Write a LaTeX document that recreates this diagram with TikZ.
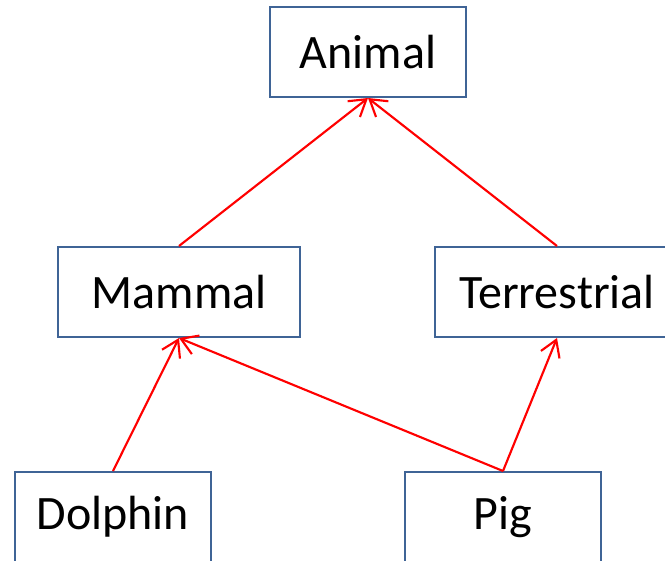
\documentclass[tikz,border=0pt]{standalone}
\usepackage{fontspec}
\setmainfont{Carlito}
\usetikzlibrary{arrows.meta}
\definecolor{boxblue}{HTML}{3F6496}
\begin{document}
\begin{tikzpicture}[x=0.75pt,y=-0.75pt,
  classbox/.style={draw=boxblue, line width=1.5pt, fill=white, inner sep=0pt,
    minimum height=67.5pt, font=\fontsize{36}{43}\selectfont},
  isa/.style={draw=red, line width=1.6pt,
    -{Straight Barb[length=12pt,width=15pt,line width=1.6pt]}}]
  \useasboundingbox (0,0) rectangle (665,561);
  \clip (0,0) rectangle (665,561);
  \node[classbox, minimum width=147pt] (animal) at (368,52) {Animal};
  \node[classbox, minimum width=181.5pt] (mammal) at (179,292) {Mammal};
  \node[classbox, minimum width=183pt] (terrestrial) at (557,292) {Terrestrial};
  \node[classbox, minimum width=147pt] (dolphin) at (113,517) {Dolphin};
  \node[classbox, minimum width=147pt] (pig) at (503,517) {Pig};
  \draw[isa] (mammal.north) -- (animal.south);
  \draw[isa] (terrestrial.north) -- (animal.south);
  \draw[isa] (dolphin.north) -- (mammal.south);
  \draw[isa] (pig.north) -- (mammal.south);
  \draw[isa] (pig.north) -- (terrestrial.south);
\end{tikzpicture}
\end{document}
